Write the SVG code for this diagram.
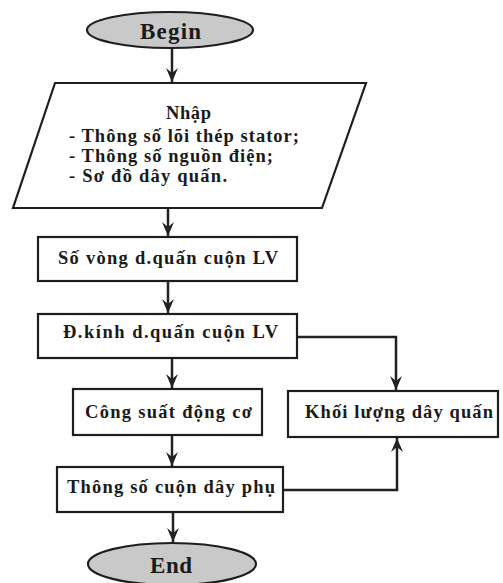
<svg xmlns="http://www.w3.org/2000/svg" width="503" height="583" viewBox="0 0 503 583">
  <style>
    .shape { fill: #ffffff; stroke: #1e1e1e; stroke-width: 2.2; }
    .term { fill: #c9c9c9; stroke: #1e1e1e; stroke-width: 2.2; }
    .lbl { font-family: "Liberation Serif", "DejaVu Serif", serif; font-weight: bold; fill: #1a1a1a; font-size: 18.5px; }
    .big { font-size: 23px; }
    .wire { fill: none; stroke: #222222; stroke-width: 2.5; marker-end: url(#arr); }
  </style>
  <defs>
    <marker id="arr" viewBox="-15 -7 16 14" refX="0" refY="0" markerWidth="16" markerHeight="14" orient="auto" markerUnits="userSpaceOnUse">
      <path d="M0,0 L-14,-6 L-9,0 L-14,6 Z" fill="#222222"/>
    </marker>
  </defs>
  <rect width="503" height="583" fill="#ffffff"/>

  <!-- connectors -->
  <g id="connectors">
    <path class="wire" d="M172,48 V82"/>
    <path class="wire" d="M168,209 V236"/>
    <path class="wire" d="M168,281 V313"/>
    <path class="wire" d="M297,337 H396 V390"/>
    <path class="wire" d="M172,359 V388"/>
    <path class="wire" d="M172,436 V466"/>
    <path class="wire" d="M283,490 H397 V438"/>
    <path class="wire" d="M173,513 V542"/>
  </g>

  <g id="begin">
    <ellipse class="term" cx="170" cy="30" rx="83" ry="18"/>
    <text class="lbl big" x="140" y="39" textLength="61" lengthAdjust="spacing">Begin</text>
  </g>

  <g id="input">
    <polygon class="shape" points="55,83 366,83 322,208 13,208"/>
    <text class="lbl" x="166" y="119" textLength="45" lengthAdjust="spacing">Nhập</text>
    <text class="lbl" x="69" y="142" textLength="230" lengthAdjust="spacing">- Thông số lõi thép stator;</text>
    <text class="lbl" x="69" y="162" textLength="204" lengthAdjust="spacing">- Thông số nguồn điện;</text>
    <text class="lbl" x="69" y="182" textLength="158" lengthAdjust="spacing">- Sơ đồ dây quấn.</text>
  </g>

  <g id="turns">
    <rect class="shape" x="38" y="237" width="259" height="44"/>
    <text class="lbl" x="58" y="264" textLength="220" lengthAdjust="spacing">Số vòng d.quấn cuộn LV</text>
  </g>

  <g id="diameter">
    <rect class="shape" x="38" y="314" width="259" height="44"/>
    <text class="lbl" x="63" y="338" textLength="215" lengthAdjust="spacing">Đ.kính d.quấn cuộn LV</text>
  </g>

  <g id="power">
    <rect class="shape" x="73" y="389" width="189" height="46"/>
    <text class="lbl" x="85" y="418" textLength="167" lengthAdjust="spacing">Công suất động cơ</text>
  </g>

  <g id="mass">
    <rect class="shape" x="288" y="391" width="210" height="46"/>
    <text class="lbl" x="305" y="418" textLength="188" lengthAdjust="spacing">Khối lượng dây quấn</text>
  </g>

  <g id="aux">
    <rect class="shape" x="57" y="467" width="226" height="45"/>
    <text class="lbl" x="67" y="493" textLength="208" lengthAdjust="spacing">Thông số cuộn dây phụ</text>
  </g>

  <g id="end">
    <ellipse class="term" cx="172" cy="564" rx="84" ry="21"/>
    <text class="lbl big" x="150" y="573" textLength="42" lengthAdjust="spacing">End</text>
  </g>
</svg>
